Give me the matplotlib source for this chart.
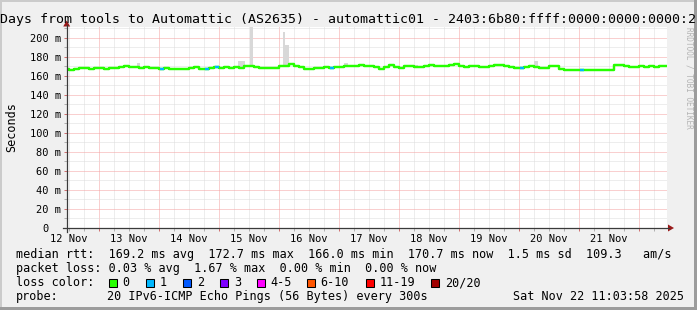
import numpy as np
import matplotlib
matplotlib.use("Agg")
import matplotlib.pyplot as plt
from matplotlib import transforms
from matplotlib.patches import Rectangle, Polygon
from matplotlib.lines import Line2D
from datetime import datetime

# ---------------- data ----------------
start_time = datetime(2025, 11, 12, 11, 3, 58)
span_hours = 240
sample_step_h = 2

median_ms = [
    167.4, 166.3, 167.0, 168.1, 168.8, 167.7, 168.8, 168.1, 167.7, 168.8,
    168.1, 169.5, 170.5, 169.8, 169.1, 168.8, 169.1, 168.8, 168.4, 167.7,
    168.1, 167.4, 167.7, 167.7, 167.7, 168.4, 169.5, 167.7, 167.4, 168.1,
    169.1, 168.8, 169.1, 168.4, 169.5, 168.8, 170.2, 170.9, 169.5, 168.8,
    168.4, 168.8,
    168.1, 170.2, 170.2, 172.3, 170.9, 169.5, 167.7, 167.7, 168.8, 168.8,
    169.5, 168.8, 169.1, 169.1, 170.2, 170.5, 170.9, 171.9, 170.9, 170.2,
    169.5, 167.0, 169.1, 171.2, 169.5, 168.8, 170.2, 170.5, 169.8, 169.5,
    170.5, 171.2, 170.9, 170.9, 170.2, 171.2, 172.6, 170.9, 169.8, 170.9,
    170.9, 169.8, 169.8, 170.2, 171.2, 171.9, 170.9, 169.1, 168.1, 168.4,
    169.1, 170.2, 169.8, 168.1, 168.8, 170.2, 170.5, 167.0, 166.7, 166.3,
    166.3, 166.3, 166.3, 166.0, 166.0, 166.0, 166.0, 166.0, 171.2, 171.2,
    170.2, 169.8, 169.8, 170.2, 169.8, 170.2, 169.1, 170.2, 170.5,
]
loss_hours = [38, 56, 60, 106, 182, 206]
loss_values = [1, 1, 1, 1, 1, 1]

smoke_start_h = [68.7, 73.3, 28.2, 86.5, 87.5, 111.0, 137.0, 186.8]
smoke_end_h = [71.3, 74.7, 29.4, 87.5, 88.8, 112.5, 140.5, 188.4]
smoke_top_ms = [175.5, 211.0, 174.0, 206.6, 192.6, 173.4, 171.5, 175.5]

y_major = [0, 20, 40, 60, 80, 100, 120, 140, 160, 180, 200]
y_labels = ["0", "20 m", "40 m", "60 m", "80 m", "100 m", "120 m", "140 m",
            "160 m", "180 m", "200 m"]
day_labels = ["12 Nov", "13 Nov", "14 Nov", "15 Nov", "16 Nov", "17 Nov",
              "18 Nov", "19 Nov", "20 Nov", "21 Nov"]

loss_legend = ["0", "1", "2", "3", "4-5", "6-10", "11-19", "20/20"]
loss_colors = ["#26ff00", "#00b8ff", "#0059ff", "#7e00ff", "#ff00ff",
               "#ff5500", "#ff0000", "#a10000"]

title = ("Days from tools to Automattic (AS2635) - automattic01 - "
         "2403:6b80:ffff:0000:0000:0000:2")
row1 = "median rtt:  169.2 ms avg  172.7 ms max  166.0 ms min  170.7 ms now  1.5 ms sd  109.3   am/s"
row2 = "packet loss: 0.03 % avg  1.67 % max  0.00 % min  0.00 % now"
row3_label = "loss color:"
row4_label = "probe:"
row4_text = "20 IPv6-ICMP Echo Pings (56 Bytes) every 300s"
date_text = "Sat Nov 22 11:03:58 2025"
watermark = "RRDTOOL / TOBI OETIKER"

# ---------------- figure ----------------
W, H = 697, 310
MONO = "DejaVu Sans Mono"
fig = plt.figure(figsize=(W / 100, H / 100), dpi=100, facecolor="#f0f0f0")

def fx(x):
    return x / W

def fy(y):
    return 1 - y / H

L, R, T, B = 66.7, 666.7, 27.0, 228.0
ax = fig.add_axes([fx(L), fy(B), (R - L) / W, (B - T) / H])
ax.set_facecolor("white")
ax.set_xlim(0, span_hours)
ax.set_ylim(0, 211.5)
for s in ax.spines.values():
    s.set_visible(False)

hours = np.arange(0, span_hours + 1, sample_step_h)
median = np.array(median_ms)

# grid positions from calendar
midnights = []
for k in range(10):
    h = (datetime(2025, 11, 13 + k) - start_time).total_seconds() / 3600
    if 0 < h < span_hours:
        midnights.append(h)
minor_x = []
h0 = midnights[0] - 24
for k in range(60):
    h = h0 + 6 * k
    if 0 < h < span_hours and all(abs(h - m) > 0.01 for m in midnights):
        minor_x.append(h)
noon_pos = [(datetime(2025, 11, 12 + k, 12) - start_time).total_seconds() / 3600
            for k in range(len(day_labels))]

ax.set_xticks(midnights)
ax.set_xticks(minor_x, minor=True)
ax.set_yticks(y_major)
ax.set_yticks([v + 10 for v in y_major[:-1]] + [210], minor=True)
ax.tick_params(which="both", labelleft=False, labelbottom=False,
               direction="out", width=0.72)
ax.tick_params(which="major", length=2.5, color="#d07070")
ax.tick_params(which="minor", length=2.0, color="#b0b0b0")
ax.grid(which="major", color="#f5a0a0", lw=0.72, ls=(0, (1, 1)))
ax.grid(which="minor", color="#dcdcdc", lw=0.72, ls=(0, (1, 1)))
ax.set_axisbelow(True)

# smoke
for s, e, t in zip(smoke_start_h, smoke_end_h, smoke_top_ms):
    b = np.interp((s + e) / 2, hours, median)
    ax.fill_between([s, e], [b, b], [t, t], color="#d8d8d8", lw=0, zorder=2)

# median line
ax.plot(hours, median, drawstyle="steps-mid", color=loss_colors[0], lw=1.75,
        solid_capstyle="butt", zorder=3)
for h, l in zip(loss_hours, loss_values):
    v = np.interp(h, hours, median)
    ax.plot([h - 0.8, h + 0.8], [v, v], color=loss_colors[l], lw=1.75,
            solid_capstyle="butt", zorder=4)

# y tick labels
ytr = transforms.offset_copy(ax.get_yaxis_transform(), fig=fig, x=-5.5, y=-3.6, units="dots")
ytr0 = transforms.offset_copy(ax.get_yaxis_transform(), fig=fig, x=-18.0, y=-3.6, units="dots")
for v, lab in zip(y_major, y_labels):
    ax.text(0, v, lab, transform=ytr if lab != "0" else ytr0, ha="right", va="baseline",
            family=MONO, fontsize=7.45, clip_on=False)

# x tick labels
xtr = transforms.offset_copy(ax.get_xaxis_transform(), fig=fig, x=0, y=-13.5, units="dots")
for h, lab in zip(noon_pos, day_labels):
    ax.text(h, 0, lab, transform=xtr, ha="center", va="baseline",
            family=MONO, fontsize=7.45, clip_on=False)

# axes lines and arrows
axis_col = "#3a3a3a"
arrow_col = "#9a1a1a"
fig.add_artist(Line2D([fx(L), fx(L)], [fy(231.5), fy(25)], color=axis_col, lw=0.9))
fig.add_artist(Line2D([fx(63), fx(669)], [fy(B), fy(B)], color=axis_col, lw=0.9))
fig.add_artist(Polygon([[fx(L - 3.5), fy(26.5)], [fx(L + 3.5), fy(26.5)], [fx(L), fy(20.5)]],
                       closed=True, color=arrow_col, lw=0))
fig.add_artist(Polygon([[fx(668), fy(B - 3.5)], [fx(668), fy(B + 3.5)], [fx(674), fy(B)]],
                       closed=True, color=arrow_col, lw=0))

# frame
fig.add_artist(Rectangle((0, fy(2)), 1, 2 / H, color="#cbcbcb", lw=0))
fig.add_artist(Rectangle((0, 0), 2 / W, 1, color="#cbcbcb", lw=0))
fig.add_artist(Rectangle((0, 0), 1, 3 / H, color="#9c9c9c", lw=0))
fig.add_artist(Rectangle((fx(694), 0), 3 / W, 1, color="#9c9c9c", lw=0))

# title
fig.text(fx(0), fy(23.3), title, ha="left", va="baseline", family=MONO, fontsize=9.55)

# y label
fig.text(fx(11.5), fy(127.5), "Seconds", rotation=90, ha="center", va="center",
         family=MONO, fontsize=8.5)

# watermark (placed just under the title line)
fig.text(fx(689), fy(27), watermark, rotation=270, ha="center", va="top",
         family=MONO, fontsize=5.6, color="#b4b4b4")

# legend rows
fs = 8.5
fig.text(fx(16), fy(258.3), row1, ha="left", va="baseline", family=MONO, fontsize=fs)
fig.text(fx(16), fy(272.3), row2, ha="left", va="baseline", family=MONO, fontsize=fs)
fig.text(fx(16), fy(286.3), row3_label, ha="left", va="baseline", family=MONO, fontsize=fs)
box_x = [108.7, 145.7, 182.7, 219.7, 256.7, 306.7, 365.7, 430.7]
for bx, lab, col in zip(box_x, loss_legend, loss_colors):
    fig.add_artist(Rectangle((fx(bx), fy(286.5)), 8 / W, 8 / H, facecolor=col,
                             edgecolor="black", lw=0.75))
    fig.text(fx(bx + 14.0), fy(286.3), lab, ha="left", va="baseline", family=MONO, fontsize=fs)
fig.text(fx(16), fy(300.3), row4_label, ha="left", va="baseline", family=MONO, fontsize=fs)
fig.text(fx(107), fy(300.3), row4_text, ha="left", va="baseline", family=MONO, fontsize=fs)
fig.text(fx(513), fy(300.3), date_text, ha="left", va="baseline", family=MONO, fontsize=fs)

fig.savefig("out.png", dpi=100, facecolor=fig.get_facecolor())
